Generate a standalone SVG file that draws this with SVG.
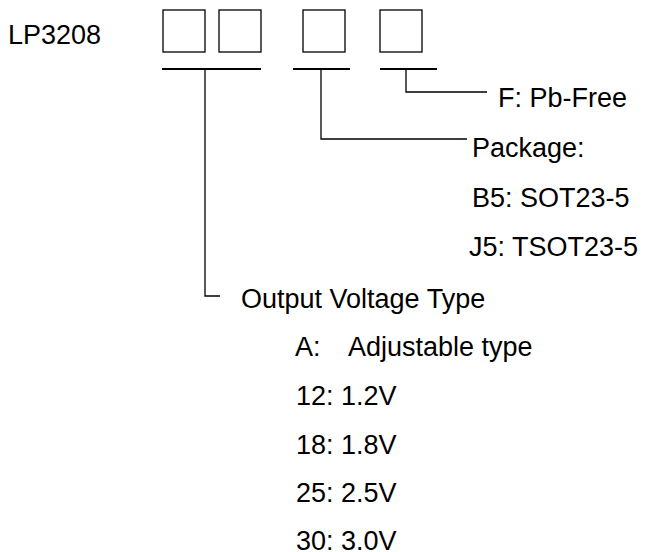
<svg xmlns="http://www.w3.org/2000/svg" width="647" height="552" viewBox="0 0 647 552">
<style>
  text { font-family: "Liberation Sans", Arial, sans-serif; font-size: 27px; fill: #000; }
  .box { fill: #fff; stroke: #000; stroke-width: 1.3; }
  .ul { stroke: #000; stroke-width: 2; fill: none; }
  .conn { stroke: #000; stroke-width: 1.3; fill: none; }
</style>
<rect width="647" height="552" fill="#fff"/>
<g id="title"><text x="8" y="44">LP3208</text></g>
<g id="boxes">
  <rect class="box" x="163" y="10" width="42" height="42"/>
  <rect class="box" x="219" y="10" width="42" height="42"/>
  <rect class="box" x="303" y="10" width="42" height="42"/>
  <rect class="box" x="380" y="10" width="42" height="42"/>
</g>
<g id="underlines">
  <line class="ul" x1="162" y1="69" x2="261" y2="69"/>
  <line class="ul" x1="293" y1="69" x2="350" y2="69"/>
  <line class="ul" x1="380" y1="69" x2="437" y2="69"/>
</g>
<g id="connectors">
  <polyline class="conn" points="205,69 205,296 220,296"/>
  <polyline class="conn" points="321,69 321,139 467,139"/>
  <polyline class="conn" points="406,69 406,92 487,92"/>
</g>
<g id="pbfree"><text x="498" y="107">F: Pb-Free</text></g>
<g id="package">
  <text x="472" y="157">Package:</text>
  <text x="472" y="207">B5: SOT23-5</text>
  <text x="469" y="256">J5: TSOT23-5</text>
</g>
<g id="voltage">
  <text x="241" y="308">Output Voltage Type</text>
  <text x="295" y="356">A:<tspan x="348">Adjustable type</tspan></text>
  <text x="296" y="405">12: 1.2V</text>
  <text x="296" y="454">18: 1.8V</text>
  <text x="296" y="502">25: 2.5V</text>
  <text x="296" y="550">30: 3.0V</text>
</g>
</svg>
